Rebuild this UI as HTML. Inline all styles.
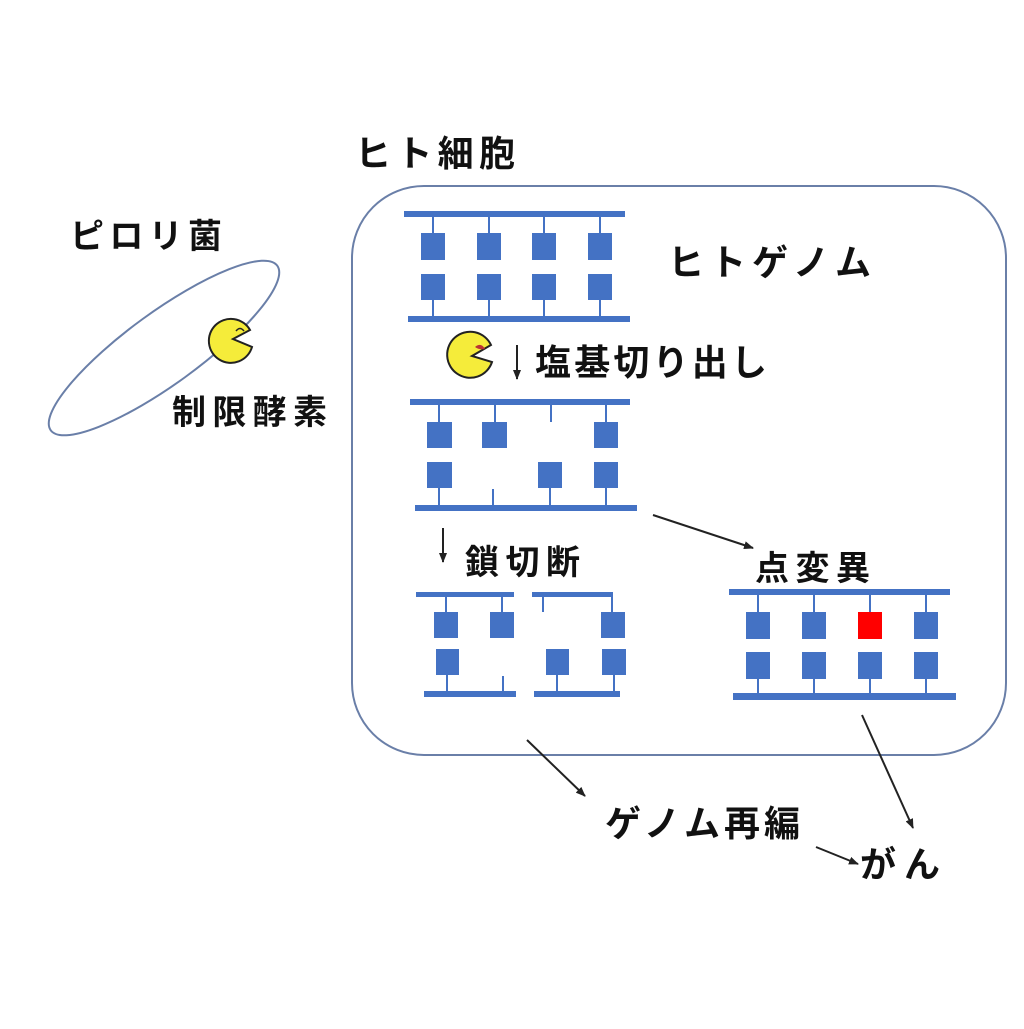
<!DOCTYPE html>
<html><head><meta charset="utf-8"><style>
body{margin:0;background:#fff}
svg text{font-family:"Liberation Sans","Noto Sans CJK JP",sans-serif;fill:#111;font-weight:bold}
</style></head><body>
<svg width="1024" height="1024" viewBox="0 0 1024 1024" xmlns="http://www.w3.org/2000/svg">
<defs>
<marker id="ah" markerWidth="10" markerHeight="8" refX="9" refY="4" orient="auto" markerUnits="userSpaceOnUse"><path d="M0,0 L10,4 L0,8 z" fill="#222"/></marker>
</defs>
<rect x="352" y="186" width="654" height="569" rx="72" fill="none" stroke="#6a7fa8" stroke-width="2"/>
<ellipse cx="164" cy="348" rx="140" ry="36" transform="rotate(-36 164 348)" fill="none" stroke="#6a7fa8" stroke-width="2"/>

<text x="355" y="166" font-size="36" textLength="160">ヒト細胞</text>
<text x="70" y="248" font-size="34" textLength="152">ピロリ菌</text>
<text x="668" y="275" font-size="36" textLength="203">ヒトゲノム</text>
<text x="535" y="375" font-size="36" textLength="232">塩基切り出し</text>
<text x="172" y="424" font-size="34" textLength="155">制限酵素</text>
<text x="465" y="574" font-size="34" textLength="115">鎖切断</text>
<text x="755" y="580" font-size="34" textLength="115">点変異</text>
<text x="605" y="836" font-size="36" textLength="195">ゲノム再編</text>
<text x="860" y="877" font-size="36" textLength="80">がん</text>

<g fill="#4472c4" stroke="#4472c4">
<rect x="404" y="211" width="221" height="6" stroke="none"/>
<rect x="408" y="316" width="222" height="6" stroke="none"/>
<g stroke-width="2"><line x1="433" y1="217" x2="433" y2="234"/><line x1="489" y1="217" x2="489" y2="234"/><line x1="544" y1="217" x2="544" y2="234"/><line x1="600" y1="217" x2="600" y2="234"/>
<line x1="433" y1="300" x2="433" y2="316"/><line x1="489" y1="300" x2="489" y2="316"/><line x1="544" y1="300" x2="544" y2="316"/><line x1="600" y1="300" x2="600" y2="316"/></g>
<g stroke="none"><rect x="421" y="233" width="24" height="27"/><rect x="477" y="233" width="24" height="27"/><rect x="532" y="233" width="24" height="27"/><rect x="588" y="233" width="24" height="27"/>
<rect x="421" y="274" width="24" height="26"/><rect x="477" y="274" width="24" height="26"/><rect x="532" y="274" width="24" height="26"/><rect x="588" y="274" width="24" height="26"/></g>
<rect x="410" y="399" width="220" height="6" stroke="none"/>
<rect x="415" y="505" width="222" height="6" stroke="none"/>
<g stroke-width="2"><line x1="439" y1="405" x2="439" y2="422"/><line x1="495" y1="405" x2="495" y2="422"/><line x1="551" y1="405" x2="551" y2="422"/><line x1="606" y1="405" x2="606" y2="422"/>
<line x1="439" y1="488" x2="439" y2="505"/><line x1="493" y1="489" x2="493" y2="505"/><line x1="550" y1="488" x2="550" y2="505"/><line x1="606" y1="488" x2="606" y2="505"/></g>
<g stroke="none"><rect x="427" y="422" width="25" height="26"/><rect x="482" y="422" width="25" height="26"/><rect x="594" y="422" width="24" height="26"/>
<rect x="427" y="462" width="25" height="26"/><rect x="538" y="462" width="24" height="26"/><rect x="594" y="462" width="24" height="26"/></g>
<rect x="416" y="592" width="98" height="5" stroke="none"/>
<rect x="424" y="691" width="92" height="6" stroke="none"/>
<g stroke-width="2"><line x1="446" y1="597" x2="446" y2="612"/><line x1="502" y1="597" x2="502" y2="612"/><line x1="447" y1="675" x2="447" y2="691"/><line x1="503" y1="676" x2="503" y2="691"/>
<line x1="543" y1="597" x2="543" y2="612"/><line x1="612" y1="597" x2="612" y2="612"/><line x1="557" y1="675" x2="557" y2="691"/><line x1="614" y1="675" x2="614" y2="691"/></g>
<g stroke="none"><rect x="434" y="612" width="24" height="26"/><rect x="490" y="612" width="24" height="26"/><rect x="436" y="649" width="23" height="26"/>
<rect x="532" y="592" width="81" height="5"/><rect x="534" y="691" width="86" height="6"/>
<rect x="601" y="612" width="24" height="26"/><rect x="546" y="649" width="23" height="26"/><rect x="602" y="649" width="24" height="26"/></g>
<rect x="729" y="589" width="221" height="6" stroke="none"/>
<rect x="733" y="693" width="223" height="7" stroke="none"/>
<g stroke-width="2"><line x1="758" y1="595" x2="758" y2="612"/><line x1="814" y1="595" x2="814" y2="612"/><line x1="870" y1="595" x2="870" y2="612"/><line x1="926" y1="595" x2="926" y2="612"/>
<line x1="758" y1="678" x2="758" y2="693"/><line x1="814" y1="678" x2="814" y2="693"/><line x1="870" y1="678" x2="870" y2="693"/><line x1="926" y1="678" x2="926" y2="693"/></g>
<g stroke="none"><rect x="746" y="612" width="24" height="27"/><rect x="802" y="612" width="24" height="27"/><rect x="858" y="612" width="24" height="27" fill="#f00"/><rect x="914" y="612" width="24" height="27"/>
<rect x="746" y="652" width="24" height="27"/><rect x="802" y="652" width="24" height="27"/><rect x="858" y="652" width="24" height="27"/><rect x="914" y="652" width="24" height="27"/></g>
</g>

<path d="M252,347 A22,22 0 1 1 250,330 L233,339 Z" fill="#f5ec3a" stroke="#222" stroke-width="2"/>
<path d="M236,331 q4,-5 8,0" fill="none" stroke="#222" stroke-width="1.5"/>
<path d="M492,362 A23,23 0 1 1 491,345 L472,356 Z" fill="#f5ec3a" stroke="#222" stroke-width="2"/>
<path d="M475,347 q6,-5 10,2 q-6,1 -10,-2z" fill="#b33" />

<g stroke="#222" stroke-width="2" fill="none" marker-end="url(#ah)">
<line x1="517" y1="345" x2="517" y2="379"/>
<line x1="443" y1="528" x2="443" y2="562"/>
<line x1="653" y1="515" x2="753" y2="548"/>
<line x1="527" y1="740" x2="585" y2="796"/>
<line x1="862" y1="715" x2="913" y2="828"/>
<line x1="816" y1="847" x2="858" y2="864"/>
</g>
</svg>
</body></html>
